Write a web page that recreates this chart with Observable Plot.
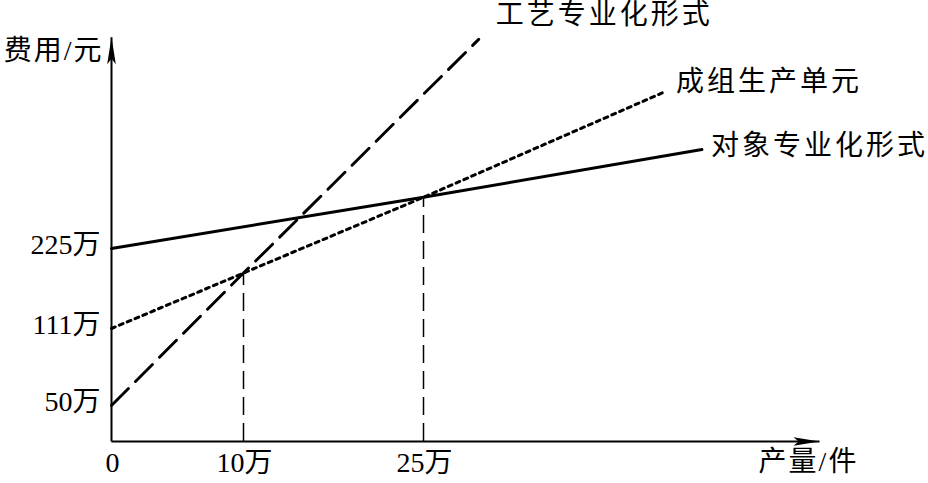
<!DOCTYPE html>
<html>
<head>
<meta charset="utf-8">
<script src="https://cdn.jsdelivr.net/npm/d3@7"></script>
<script src="https://cdn.jsdelivr.net/npm/@observablehq/plot@0.6"></script>
<style>
  body { margin: 0; background: #fff; }
  #chart svg { display: block; }
</style>
</head>
<body>
<div id="chart"></div>
<script>
// ---- data (read from the schematic; quantities and costs in 万) ----
const seriesNames = ["工艺专业化形式", "成组生产单元", "对象专业化形式"];
const processQ = [0, 10, 29.6];
const processCost = [50, 190, 523];
const groupQ = [0, 10, 25, 45.2];
const groupCost = [111, 190, 298, 449];
const objectQ = [0, 25, 48.2];
const objectCost = [225, 298, 366];
const crossQ = [10, 25];
const crossCost = [190, 298];
const xTicks = [0, 10, 25];
const xTickLabels = ["0", "10万", "25万"];
const yTicks = [50, 111, 225];
const yTickLabels = ["50万", "111万", "225万"];
const xAxisTitle = "产量/件";
const yAxisTitle = "费用/元";
const xAxisMax = 58;
const yAxisMax = 526;

// ---- tables built from the arrays ----
const toRows = (qs, cs) => qs.map((q, i) => ({q, c: cs[i]}));
const processRows = toRows(processQ, processCost);
const groupRows = toRows(groupQ, groupCost);
const objectRows = toRows(objectQ, objectCost);
const crossRows = toRows(crossQ, crossCost);
const xTickRows = xTicks.map((v, i) => ({v, label: xTickLabels[i]}));
const yTickRows = yTicks.map((v, i) => ({v, label: yTickLabels[i]}));
const last = rows => [rows[rows.length - 1]];

const font = "'Liberation Serif', 'Noto Sans CJK SC', serif";
const fs = 28;

// arrowhead symbols (tip at the anchor point)
const arrowUp = {
  draw(ctx, size) {
    const r = Math.sqrt(size / Math.PI);
    ctx.moveTo(0, 0);
    ctx.lineTo(r * 0.16, r);
    ctx.lineTo(0, r * 0.8);
    ctx.lineTo(-r * 0.16, r);
    ctx.closePath();
  }
};
const arrowRight = {
  draw(ctx, size) {
    const r = Math.sqrt(size / Math.PI);
    ctx.moveTo(0, 0);
    ctx.lineTo(-r, -r * 0.16);
    ctx.lineTo(-r * 0.8, 0);
    ctx.lineTo(-r, r * 0.16);
    ctx.closePath();
  }
};

const chart = Plot.plot({
  width: 928,
  height: 483,
  margin: 0,
  x: {type: "linear", domain: [0, 10, 25], range: [111, 243, 423], axis: null},
  y: {type: "linear", domain: [0, 50, 111, 225], range: [441, 405, 328, 248], axis: null},
  style: {fontFamily: font, background: "#fff", color: "#000"},
  marks: [
    // axes
    Plot.link([{x1: 0, y1: 0, x2: 0, y2: yAxisMax}], {x1: "x1", y1: "y1", x2: "x2", y2: "y2", stroke: "#000", strokeWidth: 2}),
    Plot.link([{x1: 0, y1: 0, x2: xAxisMax, y2: 0}], {x1: "x1", y1: "y1", x2: "x2", y2: "y2", stroke: "#000", strokeWidth: 2}),
    Plot.dot([{x: 0, y: yAxisMax}], {x: "x", y: "y", symbol: arrowUp, r: 27, fill: "#000", stroke: "none"}),
    Plot.dot([{x: xAxisMax, y: 0}], {x: "x", y: "y", symbol: arrowRight, r: 26, fill: "#000", stroke: "none"}),
    // drop lines at the break-even quantities
    Plot.ruleX(crossRows, {x: "q", y1: 0, y2: "c", stroke: "#000", strokeWidth: 1.5, strokeDasharray: "18,8"}),
    // cost lines
    Plot.line(processRows, {x: "q", y: "c", stroke: "#000", strokeWidth: 2.9, strokeDasharray: "24,10"}),
    Plot.line(groupRows, {x: "q", y: "c", stroke: "#000", strokeWidth: 3, strokeDasharray: "4,4.5"}),
    Plot.line(objectRows, {x: "q", y: "c", stroke: "#000", strokeWidth: 3}),
    // tick labels
    Plot.text(yTickRows, {x: 0, y: "v", text: "label", textAnchor: "end", dx: -11, dy: -3, fontSize: fs, fontFamily: font, fill: "#000"}),
    Plot.text(xTickRows, {x: "v", y: 0, text: "label", textAnchor: "middle", dx: 1, dy: 22, fontSize: fs, fontFamily: font, fill: "#000"}),
    // axis titles
    Plot.text([{x: 0, y: yAxisMax}], {x: "x", y: "y", text: () => yAxisTitle, textAnchor: "end", dx: -8, dy: 14, fontSize: fs, fontFamily: font, fill: "#000"}),
    Plot.text([{x: xAxisMax, y: 0}], {x: "x", y: "y", text: () => xAxisTitle, textAnchor: "middle", dx: -11, dy: 21, fontSize: fs, fontFamily: font, fill: "#000"}),
    // series labels at line ends
    Plot.text(last(processRows), {x: "q", y: "c", text: () => seriesNames[0], textAnchor: "start", dx: 17, dy: -24, fontSize: fs, fontFamily: font, fill: "#000"}),
    Plot.text(last(groupRows), {x: "q", y: "c", text: () => seriesNames[1], textAnchor: "start", dx: 10, dy: -9, fontSize: fs, fontFamily: font, fill: "#000"}),
    Plot.text(last(objectRows), {x: "q", y: "c", text: () => seriesNames[2], textAnchor: "start", dx: 9, dy: -4, fontSize: fs, fontFamily: font, fill: "#000"})
  ]
});

// widen the CJK captions slightly, as in the typeset original
d3.select(chart).selectAll("text").each(function () {
  const t = this.textContent;
  if (seriesNames.includes(t)) this.style.letterSpacing = "3px";
  else if (t === xAxisTitle || t === yAxisTitle) this.style.letterSpacing = "2px";
});
document.getElementById("chart").appendChild(chart);
</script>
</body>
</html>
